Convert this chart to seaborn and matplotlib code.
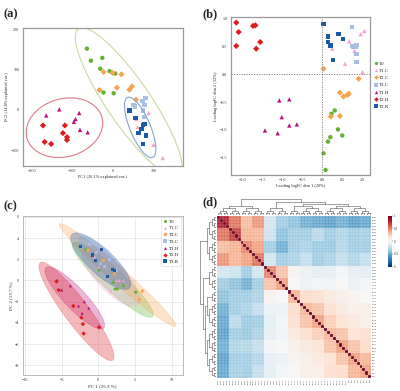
import numpy as np
import pandas as pd
import seaborn as sns
import matplotlib.pyplot as plt
from matplotlib.patches import Ellipse
from matplotlib.lines import Line2D

# groups / style
groups = ["T0", "T1.C", "T2.C", "T3.C", "T1.H", "T2.H", "T3.R"]
colors = ["#63b12f", "#f3a3d6", "#f7a450", "#a7bfe3", "#b8137c", "#dd1c1f", "#1d5aa6"]
marks = ["o", "^", "D", "s", "^", "D", "s"]

# (a) PCA scores
a_T0 = [(-64, 152), (-54, 122), (-26, 129), (-31, 102), (-8, 96), (6, 90), (-23, 43), (2, 41)]
a_T1C = [(88, -8), (58, -23), (61, -43), (78, -35), (100, -87), (123, -120)]
a_T2C = [(-23, 94), (-1, 92), (21, 88), (-33, 49), (10, 55), (47, 58), (41, 50), (57, 25)]
a_T3C = [(73, 22), (80, 29), (78, 12), (74, -2), (51, 12), (76, -18), (54, 8)]
a_T1H = [(-132, 1), (-164, -14), (-83, -8), (-92, -23), (-96, -30), (-81, -50), (-62, -56)]
a_T2H = [(-172, -39), (-118, -39), (-123, -58), (-113, -68), (-113, -75), (-168, -80), (-152, -85)]
a_T3R = [(41, -2), (56, -21), (78, -35), (71, -48), (63, -58), (81, -64), (74, -85), (74, -38)]

# (b) MDS leading logFC
b_T0 = [(0.31, -0.65), (0.23, -0.71), (0.39, -0.99), (0.50, -1.10), (0.20, -1.13), (0.14, -1.21), (0.03, -1.42), (0.08, -1.72)]
b_T1C = [(1.05, 0.78), (0.96, 0.72), (0.67, 0.59), (0.81, 0.42), (0.25, 0.46), (0.57, 0.19), (1.01, 0.04)]
b_T2C = [(0.03, 0.10), (0.91, -0.08), (0.44, -0.33), (0.53, -0.40), (0.63, -0.37), (0.66, -0.35), (0.21, -0.76), (0.44, -0.75)]
b_T3C = [(0.74, 0.85), (0.74, 0.51), (0.83, 0.49), (0.86, 0.53), (0.86, 0.36), (0.86, 0.22), (0.78, 0.49)]
b_T1H = [(-1.08, -0.47), (-0.83, -0.45), (-1.02, -0.77), (-0.83, -0.92), (-0.64, -0.90), (-1.44, -1.01), (-1.12, -1.06)]
b_T2H = [(-2.16, 0.93), (-2.10, 0.76), (-2.16, 0.51), (-1.74, 0.87), (-1.68, 0.88), (-1.56, 0.58), (-1.66, 0.46)]
b_T3R = [(0.03, 0.90), (0.14, 0.68), (0.14, 0.58), (0.20, 0.52), (0.39, 0.72), (0.51, 0.63), (0.27, 0.26), (0.41, 0.72)]

# (c) PCA scores
c_T0 = [(-1.7, 2.9), (0.1, 0.95), (2.0, -0.2), (2.3, -0.8), (2.6, -0.8), (3.4, -0.5), (5.1, -1.1)]
c_T1C = [(0.05, 1.3), (1.7, -1.0), (2.5, 0.0), (2.9, 0.0), (3.4, 0.0), (-0.5, 2.2)]
c_T2C = [(-1.4, 2.85), (0.7, 1.9), (2.2, 0.6), (6.0, -1.0), (5.6, -1.8)]
c_T3C = [(-1.2, 3.35), (-0.2, 2.6), (0.9, 1.3), (1.5, 2.0), (2.5, 0.9), (0.3, 1.6)]
c_T1H = [(-5.0, -0.9), (-3.8, -0.5), (-2.7, -2.4), (-1.9, -2.0), (-1.3, -2.6), (-2.2, -3.1), (-5.6, 0.0)]
c_T2H = [(-5.7, -0.1), (-5.4, -0.9), (-3.4, -2.4), (-2.3, -3.5), (-2.1, -4.1), (-2.0, -5.0), (0.1, -4.4)]
c_T3R = [(-2.4, 3.2), (0.46, 2.9), (-0.8, 2.4), (-0.35, 1.85), (1.9, 1.07), (2.2, 0.94), (1.3, 0.38)]

# (d) sample correlation heatmap: 52 samples, block means (4 samples per block)
samples = ["T2H3", "T2H5", "T2H1", "T2H6", "T1H2", "T2H2", "T1H4", "T2H7", "T1H1", "T1H6", "T2H4", "T1H3", "T1H5",
           "T1H7", "T3R2", "T3R6", "T3R1", "T3R4", "T3R3", "T3R7", "T3R5", "T3C2", "T3C6", "T3C1", "T3C3", "T3C4",
           "T3C5", "T3C7", "T3C8", "T2C1", "T2C3", "T2C2", "T2C5", "T2C4", "T2C6", "T2C7", "T2C8", "T1C1", "T1C3",
           "T1C2", "T1C4", "T1C5", "T1C6", "T1C7", "T01", "T02", "T03", "T04", "T05", "T06", "T07", "T08"]
block_corr = [
    [0.80, 0.55, 0.30, 0.50, -0.20, -0.42, -0.42, -0.50, -0.55, -0.55, -0.50, -0.55, -0.50],
    [0.55, 0.70, 0.30, 0.35, -0.15, -0.42, -0.30, -0.30, -0.20, -0.30, -0.20, -0.30, -0.20],
    [0.35, 0.42, 0.50, 0.42, -0.30, -0.50, -0.42, -0.30, -0.42, -0.35, -0.30, -0.30, -0.30],
    [0.42, 0.35, 0.42, 0.55, -0.07, -0.42, -0.30, -0.15, -0.30, -0.30, -0.15, -0.20, -0.15],
    [-0.20, -0.30, -0.42, -0.35, 0.50, 0.30, 0.15, 0.00, -0.07, 0.00, 0.00, 0.00, -0.07],
    [-0.30, -0.42, -0.50, -0.30, 0.30, 0.42, 0.07, -0.07, 0.00, 0.07, 0.00, 0.00, 0.00],
    [-0.42, -0.42, -0.30, -0.35, -0.07, -0.07, 0.35, 0.20, 0.20, 0.15, 0.07, 0.07, 0.00],
    [-0.50, -0.42, -0.35, -0.35, -0.15, -0.07, 0.20, 0.35, 0.30, 0.20, 0.15, 0.07, 0.07],
    [-0.50, -0.35, -0.35, -0.42, -0.15, -0.07, 0.15, 0.30, 0.42, 0.30, 0.15, 0.15, 0.07],
    [-0.55, -0.42, -0.42, -0.35, -0.20, -0.15, 0.07, 0.15, 0.20, 0.35, 0.30, 0.15, 0.20],
    [-0.50, -0.42, -0.30, -0.35, -0.07, 0.00, 0.07, 0.07, 0.15, 0.30, 0.42, 0.30, 0.20],
    [-0.55, -0.42, -0.42, -0.42, -0.20, -0.15, 0.00, 0.07, 0.07, 0.15, 0.30, 0.42, 0.35],
    [-0.55, -0.50, -0.42, -0.35, -0.15, -0.07, 0.00, 0.07, 0.07, 0.15, 0.20, 0.35, 0.42],
]
# dendrogram topology over blocks
block_tree = [[[0, 1], [2, 3]], [[4, 5], [[6, [7, 8]], [[9, 10], [11, 12]]]]]


def to_frame(prefix):
    src = {"T0": prefix + "T0", "T1.C": prefix + "T1C", "T2.C": prefix + "T2C", "T3.C": prefix + "T3C",
           "T1.H": prefix + "T1H", "T2.H": prefix + "T2H", "T3.R": prefix + "T3R"}
    rows = []
    for g in groups:
        for x, y in globals()[src[g]]:
            rows.append((g, x, y))
    return pd.DataFrame(rows, columns=["group", "x", "y"])


def ellipse(ax, xy, n_std, ec, fc="none", alpha=1.0, lw=0.8):
    xy = np.asarray(xy, float)
    cov = np.cov(xy.T)
    vals, vecs = np.linalg.eigh(cov)
    ang = np.degrees(np.arctan2(vecs[1, 1], vecs[0, 1]))
    w, h = 2 * n_std * np.sqrt(vals[::-1])
    e = Ellipse(xy.mean(axis=0), w, h, angle=ang, facecolor=fc, edgecolor=ec, lw=lw, alpha=alpha)
    ax.add_patch(e)


def dendro(ax, tree, side):
    segs = []

    def walk(node):
        if isinstance(node, int):
            return node + 0.5, 0
        kids = [walk(k) for k in node]
        h = max(k[1] for k in kids) + 1
        ps = [k[0] for k in kids]
        for p, kh in kids:
            segs.append(((p, p), (kh, h)))
        segs.append(((min(ps), max(ps)), (h, h)))
        return float(np.mean(ps)), h

    _, top = walk(tree)
    for (p0, p1), (h0, h1) in segs:
        if side == "top":
            ax.plot([p0, p1], [h0, h1], color="#555555", lw=0.4)
        else:
            ax.plot([-h0, -h1], [p0, p1], color="#555555", lw=0.4)
    if side == "top":
        ax.set_xlim(0, len(samples))
        ax.set_ylim(0, top * 1.02)
    else:
        ax.set_ylim(len(samples), 0)
        ax.set_xlim(-top * 1.02, 0)
    ax.axis("off")


def expand(node):
    if isinstance(node, int):
        return [[4 * node, 4 * node + 1], [4 * node + 2, 4 * node + 3]]
    return [expand(c) for c in node]


def handles(size):
    return [Line2D([], [], marker=m, color=c, ls="none", markersize=size, markeredgewidth=0)
            for c, m in zip(colors, marks)]


sns.set_style("white")
plt.rcParams["font.family"] = ["Liberation Serif", "DejaVu Serif"]
pal = dict(zip(groups, colors))
mk = dict(zip(groups, marks))

fig = plt.figure(figsize=(4, 3.91), dpi=100)
W, H = 400.0, 391.0


def box(x0, y0, x1, y1):
    return [x0 / W, 1 - y1 / H, (x1 - x0) / W, (y1 - y0) / H]


def frame_style(ax, color="#9a9a9a", lw=0.9):
    for s in ax.spines.values():
        s.set_color(color)
        s.set_linewidth(lw)
    ax.tick_params(labelsize=3, length=1.5, width=0.4, pad=1, colors="#333333")


# ---- (a)
ax = fig.add_axes(box(22.7, 27.7, 182.7, 165.7))
da = to_frame("a_")
sns.scatterplot(data=da, x="x", y="y", hue="group", style="group", palette=pal, markers=mk,
                s=10, edgecolor="none", legend=False, ax=ax)
ellipse(ax, a_T1H + a_T2H, 2.7, "#e07a87")
ellipse(ax, a_T0 + a_T1C + a_T2C + a_T3C + a_T3R, 2.8, "#c7dc9c")
ellipse(ax, a_T3R, 2.9, "#85a6cc")
ax.set_xlim(-222, 172)
ax.set_ylim(-139, 204)
ax.set_xticks([-200, -100, 0, 100])
ax.set_yticks([-100, 0, 100, 200])
ax.set_xlabel("PC1 (26.1% explained var.)", fontsize=3.2, labelpad=1)
ax.set_ylabel("PC2 (14.8% explained var.)", fontsize=3.2, labelpad=1)
frame_style(ax)

# ---- (b)
ax = fig.add_axes(box(230.7, 17.3, 370, 175))
db = to_frame("b_")
sns.scatterplot(data=db, x="x", y="y", hue="group", style="group", palette=pal, markers=mk,
                s=10, edgecolor="none", legend=False, ax=ax)
ax.axhline(0, color="#777777", lw=0.6, ls=(0, (1.5, 1.5)))
ax.axvline(0, color="#777777", lw=0.6, ls=(0, (1.5, 1.5)))
ax.set_xlim(-2.30, 1.195)
ax.set_ylim(-1.81, 1.025)
ax.set_xticks([-2.0, -1.5, -1.0, -0.5, 0.0, 0.5, 1.0])
ax.set_yticks([-1.5, -1.0, -0.5, 0.0, 0.5, 1.0])
ax.set_xlabel("Leading logFC dim 1 (20%)", fontsize=3.2, labelpad=1)
ax.set_ylabel("Leading logFC dim 2 (12%)", fontsize=3.2, labelpad=1)
frame_style(ax)
ax.legend(handles(2.4), groups, loc="center left", bbox_to_anchor=(1.01, 0.57), frameon=False,
          fontsize=3.6, handlelength=1, handletextpad=0.2, labelspacing=0.55, borderaxespad=0)

# ---- (c)
ax = fig.add_axes(box(22.7, 215.7, 182.7, 375))
dc = to_frame("c_")
ax.grid(True, color="#e4e4e4", lw=0.5)
ax.set_axisbelow(True)
for g, pts in zip(groups, [c_T0, c_T1C, c_T2C, c_T3C, c_T1H, c_T2H, c_T3R]):
    ellipse(ax, pts, 2.5, pal[g], fc=pal[g], alpha=0.3, lw=0.5)
sns.scatterplot(data=dc, x="x", y="y", hue="group", style="group", palette=pal, markers=mk,
                s=5, edgecolor="none", legend=False, ax=ax)
ax.set_xlim(-10.3, 11.5)
ax.set_ylim(-8.9, 6.1)
ax.set_xticks([-10, -5, 0, 5, 10])
ax.set_yticks([-8, -6, -4, -2, 0, 2, 4, 6])
ax.set_xlabel("PC 1 (25.3 %)", fontsize=3.6, labelpad=1)
ax.set_ylabel("PC 2 (13.7 %)", fontsize=3.6, labelpad=1)
frame_style(ax, color="#b0b0b0", lw=0.6)
leg = ax.legend(handles(2.2), groups, loc="upper right", frameon=True, fontsize=3.6, handlelength=1,
                handletextpad=0.2, labelspacing=0.45, borderaxespad=0.3, fancybox=False)
leg.get_frame().set_edgecolor("#cccccc")
leg.get_frame().set_linewidth(0.4)

# ---- (d)
idx = np.arange(len(samples)) // 4
bc = np.asarray(block_corr)
bc = (bc + bc.T) / 2
mat = bc[np.ix_(idx, idx)]
np.fill_diagonal(mat, 1.0)
corr = pd.DataFrame(mat, index=samples, columns=samples)

ax = fig.add_axes(box(216.7, 215.7, 371.4, 377.7))
cax = fig.add_axes(box(388.3, 215.7, 391.7, 266.7))
sns.heatmap(corr, ax=ax, cbar_ax=cax, cmap="RdBu_r", vmin=-1, vmax=1, linewidths=0,
            xticklabels=True, yticklabels=True)
n = len(samples)
ax.hlines(np.arange(n + 1), 0, n, color="white", lw=0.3, alpha=0.55)
ax.vlines(np.arange(n + 1), 0, n, color="white", lw=0.3, alpha=0.55)
ax.yaxis.tick_right()
ax.tick_params(length=0, labelsize=1.6, pad=0.5)
plt.setp(ax.get_yticklabels(), rotation=0)
plt.setp(ax.get_xticklabels(), rotation=90)
ax.set_xlabel("")
ax.set_ylabel("")
cb = ax.collections[0].colorbar
cb.outline.set_visible(False)
cb.set_ticks([-1, -0.5, 0, 0.5, 1])
cb.set_ticklabels(["-1", "-0.5", "0", "0.5", "1"])
cax.tick_params(labelsize=2.4, length=1, width=0.3, pad=0.5)

tree = expand(block_tree)
axt = fig.add_axes(box(216.7, 199, 371.4, 215))
dendro(axt, tree, "top")
axl = fig.add_axes(box(200, 215.7, 216.2, 377.7))
dendro(axl, tree, "left")

# panel letters
for lab, x, y in [("(a)", 4, 17), ("(b)", 203, 17), ("(c)", 4, 209), ("(d)", 203, 205)]:
    fig.text(x / W, 1 - y / H, lab, fontsize=9, fontweight="bold")

fig.savefig("out.png", dpi=100)
